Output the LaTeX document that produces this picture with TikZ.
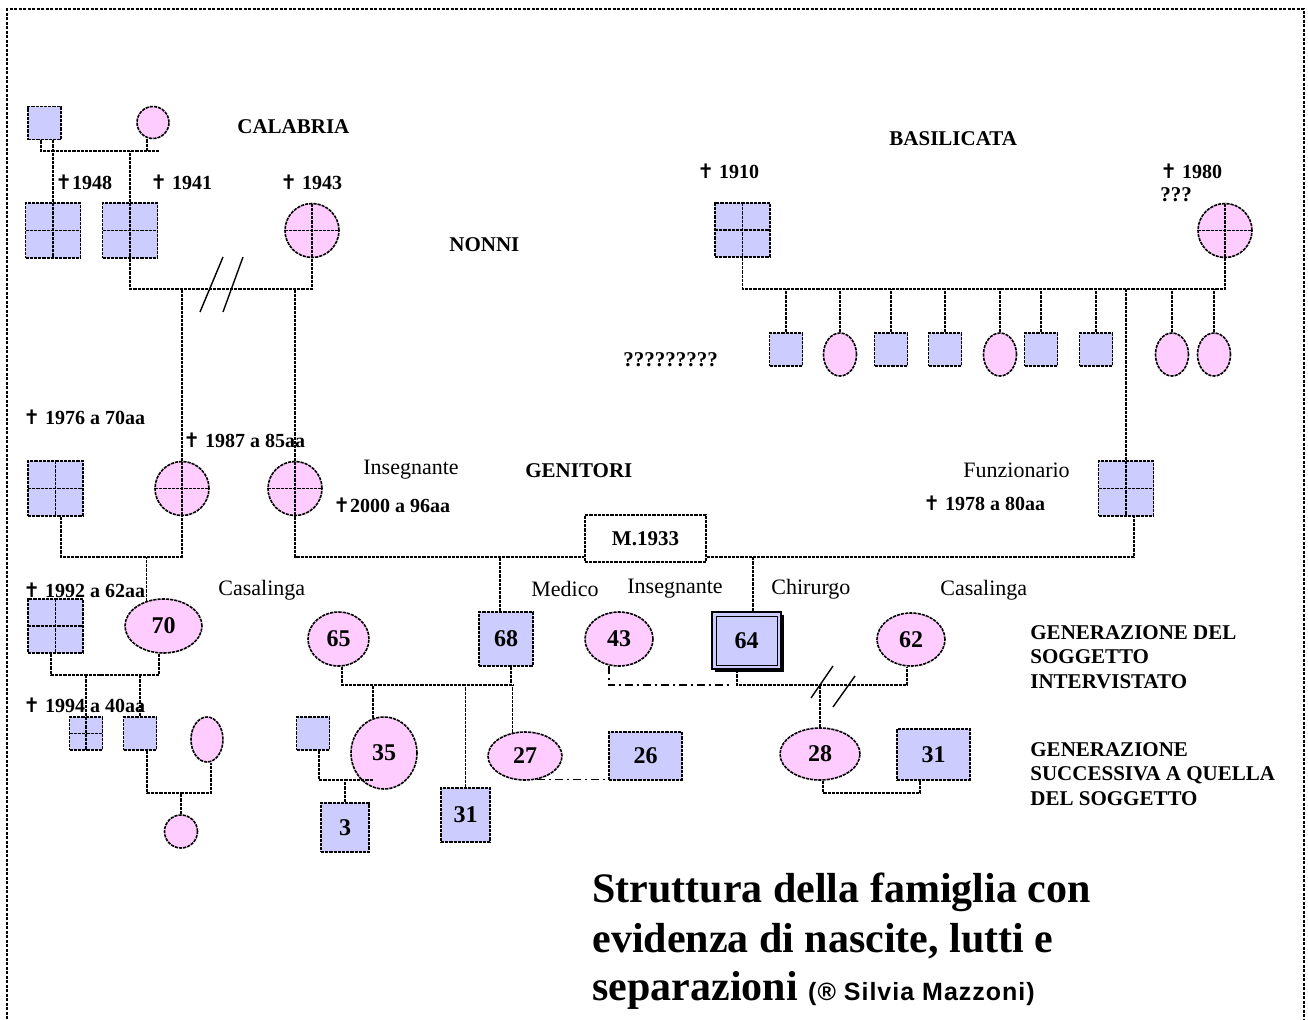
\documentclass[tikz,border=0pt]{standalone}
\usepackage{fontspec}
\setmainfont{Liberation Serif}
\newfontfamily\crocefont{DejaVu Sans}
\newfontfamily\firmafont[LetterSpace=4]{Liberation Sans}
\usetikzlibrary{shapes.geometric,shadows}
\definecolor{azzurro}{RGB}{204,204,255}
\definecolor{rosa}{RGB}{255,204,255}
\newcommand{\morto}{{\crocefont ✝}}

\begin{document}
\begin{tikzpicture}[x=0.5pt,y=-0.5pt]
\tikzstyle{every node}+=[inner sep=0pt]
\tikzstyle{linea}=[black, line width=0.8pt, dash pattern=on 1.6pt off 0.5pt]
\tikzstyle{puntolinea}=[black, line width=0.8pt, dash pattern=on 4pt off 2pt on 1pt off 2pt]
\tikzstyle{cornice}=[black, line width=1.3pt, dash pattern=on 1.5pt off 0.75pt]
\tikzstyle{maschio}=[linea, draw, rectangle, fill=azzurro]
\tikzstyle{femmina}=[linea, draw, ellipse, fill=rosa]
\tikzstyle{croce}=[path picture={\draw[linea] (path picture bounding box.north) -- (path picture bounding box.south) (path picture bounding box.west) -- (path picture bounding box.east);}]
\tikzstyle{soggetto}=[draw=black, solid, line width=1.2pt, rectangle, fill=azzurro,
  drop shadow={shadow xshift=1.5pt, shadow yshift=-1.5pt, fill=black, opacity=1},
  path picture={\draw[line width=0.5pt] ([shift={(2pt,-2pt)}]path picture bounding box.north west) rectangle ([shift={(-2pt,2pt)}]path picture bounding box.south east);}]
\tikzstyle{eta}=[font=\bfseries\fontsize{12}{14}\selectfont]
\tikzstyle{anno}=[anchor=west, font=\bfseries\fontsize{10}{12}\selectfont]
\tikzstyle{titoletto}=[anchor=west, font=\bfseries\fontsize{10.5}{12.3}\selectfont, align=left]
\tikzstyle{nota}=[anchor=west, font=\fontsize{11}{13}\selectfont]
\tikzstyle{titolo}=[anchor=base west, font=\bfseries\fontsize{21}{25}\selectfont]
\useasboundingbox (0,0) rectangle (1308,1019);
\draw[cornice] (7,1019) -- (7,9) -- (1304,9) -- (1304,1019);

% bisnonni e nonni Calabria
\node[maschio, minimum size=16.5pt] (bisN) at (44.5,123) {};
\node[femmina, minimum size=16pt] (bisNa) at (153,122.5) {};
\node[maschio, croce, minimum size=27.5pt] (nC1) at (53,230.5) {};
\node[maschio, croce, minimum size=27.5pt] (nC2) at (130,230.5) {};
\node[femmina, croce, minimum size=27pt] (nC3) at (312,230.5) {};
\coordinate (fC0) at (159,151);
\draw[linea] ([xshift=-1.75pt]bisN.south) |- (fC0);
\draw[linea] (nC1.north) -- (nC1.north |- bisN.south);
\draw[linea] ([xshift=-3pt]bisNa.south) -- ([xshift=-3pt]bisNa.south |- fC0);
\draw[linea] (nC2.north) -- (nC2.north |- fC0);
\coordinate (mC) at (220,289);
\draw[linea] (nC2.south) |- (mC) -| (nC3.south);
\draw[black, line width=0.7pt] ([shift={(-20,23)}]mC) -- ([shift={(3,-32)}]mC)
  ([shift={(3,23)}]mC) -- ([shift={(23,-32)}]mC);
\node[titoletto] (calabria) at (237,127) {CALABRIA};
\node[anno] (lC1) at (55,182) {\morto1948};
\node[anno] (lC2) at (150,182) {\morto\ 1941};
\node[anno] (lC3) at (280,182) {\morto\ 1943};
\node[titoletto] (nonni) at (449,245) {NONNI};

% nonni Basilicata
\node[maschio, croce, minimum width=27.5pt, minimum height=27pt] (nB1) at (742.5,230) {};
\node[femmina, croce, minimum size=27pt] (nB2) at (1225,230.5) {};
\coordinate (mB) at (1000,289);
\draw[linea] (nB1.south) |- (mB) -| (nB2.south);
\node[maschio, minimum size=16.5pt] (fB1) at (786,349.5) {};
\node[femmina, minimum width=16.5pt, minimum height=21.5pt] (fB2) at (840,354.5) {};
\node[maschio, minimum size=16.5pt] (fB3) at (891,349.5) {};
\node[maschio, minimum size=16.5pt] (fB4) at (945,349.5) {};
\node[femmina, minimum width=16.5pt, minimum height=21.5pt] (fB5) at (1000,354.5) {};
\node[maschio, minimum size=16.5pt] (fB6) at (1041,349.5) {};
\node[maschio, minimum size=16.5pt] (fB7) at (1096,349.5) {};
\node[femmina, minimum width=16.5pt, minimum height=21.5pt] (fB8) at (1172,354.5) {};
\node[femmina, minimum width=16.5pt, minimum height=21.5pt] (fB9) at (1214,354.5) {};
\draw[linea] (fB1.north) -- (fB1.north |- mB);
\draw[linea] (fB2.north) -- (fB2.north |- mB);
\draw[linea] (fB3.north) -- (fB3.north |- mB);
\draw[linea] (fB4.north) -- (fB4.north |- mB);
\draw[linea] (fB5.north) -- (fB5.north |- mB);
\draw[linea] (fB6.north) -- (fB6.north |- mB);
\draw[linea] (fB7.north) -- (fB7.north |- mB);
\draw[linea] (fB8.north) -- (fB8.north |- mB);
\draw[linea] (fB9.north) -- (fB9.north |- mB);
\node[titoletto] (basilicata) at (889,139) {BASILICATA};
\node[anno] (lB1) at (697,171) {\morto\ 1910};
\node[anno] (lB2) at (1160,171) {\morto\ 1980};
\node[titoletto] (lB3) at (1160,195) {???};
\node[titoletto] (lB4) at (623,360) {?????????};

% genitori
\node[maschio, croce, minimum size=27.5pt] (nF0) at (55.5,488.5) {};
\node[femmina, croce, minimum size=27pt] (nF1) at (182,488.5) {};
\node[femmina, croce, minimum size=27pt] (nF2) at (295,488.5) {};
\node[maschio, croce, minimum size=27.5pt] (nF3) at (1126,488.5) {};
\draw[linea] (nF1.north) -- (nF1.north |- mC);
\draw[linea] (nF2.north) -- (nF2.north |- mC);
\draw[linea] (nF3.north) -- (nF3.north |- mB);
\node[linea, draw, fill=white, minimum width=60.5pt, minimum height=23.5pt,
  font=\bfseries\fontsize{10.5}{12}\selectfont] (m33) at (645.5,538.5) {M.1933};
\coordinate (mF0) at (120,557);
\draw[linea] ([xshift=2.75pt]nF0.south) |- (mF0) -| (nF1.south);
\coordinate (mF1) at (640,557);
\draw[linea] (nF2.south) |- (mF1 -| m33.west);
\draw[linea] (mF1 -| m33.east) -| ([xshift=4pt]nF3.south);
\node[anno] (lF0) at (23,417) {\morto\ 1976 a 70aa};
\node[anno] (lF1) at (183,440) {\morto\ 1987 a 85aa};
\node[nota] (iF2) at (363,470) {Insegnante};
\node[anno] (lF2) at (333,505) {\morto2000 a 96aa};
\node[titoletto] (genitori) at (525,471) {GENITORI};
\node[nota] (iF3) at (963,470) {Funzionario};
\node[anno] (lF3) at (923,503) {\morto\ 1978 a 80aa};

% generazione del soggetto
\node[maschio, croce, minimum width=27.5pt, minimum height=27pt] (nS0) at (55.5,626) {};
\node[femmina, eta, minimum width=38.5pt, minimum height=27pt] (nS1) at (163.5,626) {70};
\node[femmina, eta, minimum width=30.5pt, minimum height=27pt] (nS2) at (338.5,639) {65};
\node[maschio, eta, minimum size=27pt] (nS3) at (506,639) {68};
\node[femmina, eta, minimum width=34pt, minimum height=27pt] (nS5) at (619,639) {43};
\node[soggetto, eta, minimum width=34.5pt, minimum height=28.5pt] (nS4) at (746.5,640.5) {64};
\node[femmina, eta, minimum width=34pt, minimum height=26.5pt] (nS6) at (911,639.5) {62};
\draw[linea] (nS1.124) -- (nS1.124 |- mF0);
\draw[linea] ([xshift=-3pt]nS3.north) -- ([xshift=-3pt]nS3.north |- mF1);
\draw[linea] ([xshift=3.25pt]nS4.north) -- ([xshift=3.25pt]nS4.north |- mF1);
\node[anno] (lS0) at (23,590) {\morto\ 1992 a 62aa};
\node[nota] (iS1) at (218,590) {Casalinga};
\node[nota] (iS3) at (531,589) {Medico};
\node[nota] (iS5) at (627,589) {Insegnante};
\node[nota] (iS4) at (771,589) {Chirurgo};
\node[nota] (iS6) at (940,590) {Casalinga};
\node[titoletto] (gen1) at (1030,657) {GENERAZIONE DEL\\SOGGETTO\\INTERVISTATO};

% nipoti
\coordinate (mS0) at (100,675);
\draw[linea] ([xshift=-2.25pt]nS0.south) |- (mS0) -| ([xshift=-2.25pt]nS1.south);
\node[maschio, croce, minimum size=16.5pt] (nN1) at (86,733.5) {};
\node[maschio, minimum size=16.5pt] (nN2) at (140,733.5) {};
\node[femmina, minimum width=16pt, minimum height=22.5pt] (nN3) at (207,739.5) {};
\draw[linea] (nN1.north) -- (nN1.north |- mS0);
\draw[linea] (nN2.north) -- (nN2.north |- mS0);
\coordinate (mN0) at (180,793);
\draw[linea] ([xshift=3.5pt]nN2.south) |- (mN0) -| ([xshift=2pt]nN3.south);
\node[femmina, minimum size=16.5pt] (nP0) at (181,831.5) {};
\draw[linea] (nP0.north) -- (nP0.north |- mN0);
\node[anno] (lN1) at (23,705) {\morto\ 1994 a 40aa};

\coordinate (mS2) at (513,685);
\draw[linea] ([xshift=1.75pt]nS2.south) |- (mS2);
\draw[linea] ([xshift=2.5pt]nS3.south) -- ([xshift=2.5pt]nS3.south |- mS2);
\node[maschio, minimum size=16.5pt] (nN4) at (313,733.5) {};
\node[femmina, eta, minimum width=33pt, minimum height=36pt] (nN5) at (384,753) {35};
\node[maschio, eta, minimum width=24.5pt, minimum height=27pt] (nN6) at (465.5,815) {31};
\node[femmina, eta, minimum width=37pt, minimum height=24pt] (nN7) at (525,756) {27};
\node[maschio, eta, minimum width=36.5pt, minimum height=24pt] (nN8) at (645.5,756) {26};
\draw[linea] (nN5.108) -- (nN5.108 |- mS2);
\draw[linea] (nN6.north) -- (nN6.north |- mS2);
\draw[linea] (nN7.118) -- (nN7.118 |- mS2);
\coordinate (mN4) at (373,780);
\draw[linea] ([xshift=3pt]nN4.south) |- (mN4);
\node[maschio, eta, minimum width=24pt, minimum height=24.5pt] (nP1) at (345,827.5) {3};
\draw[linea] (nP1.north) -- (nP1.north |- mN4);
\draw[puntolinea] (nN7.298) -- (nN7.298 -| nN8.south west);

\coordinate (mS4) at (737,685);
\coordinate (mS5) at (823,685);
\draw[puntolinea] (nS5.249) |- ([xshift=-3pt]mS4);
\draw[linea] ([xshift=-4.75pt]nS4.south) |- (mS5) -| ([xshift=-2pt]nS6.south);
\draw[black, line width=0.7pt] ([shift={(-12,13)}]mS5) -- ([shift={(10,-19)}]mS5)
  ([shift={(10,22)}]mS5) -- ([shift={(32,-9)}]mS5);
\node[femmina, eta, minimum width=40pt, minimum height=26pt] (nN9) at (820,754) {28};
\node[maschio, eta, minimum width=36.5pt, minimum height=25.5pt] (nN10) at (933.5,754.5) {31};
\draw[linea] (nN9.north) -- (nN9.north |- mS5);
\coordinate (mN9) at (870,793);
\draw[linea] ([xshift=1.5pt]nN9.south) |- (mN9) -| ([xshift=-6.75pt]nN10.south);
\node[titoletto] (gen2) at (1030,774) {GENERAZIONE\\SUCCESSIVA A QUELLA\\DEL SOGGETTO};

% titolo
\node[titolo] (tit1) at (592,902) {Struttura della famiglia con};
\node[titolo] (tit2) at (592,952) {evidenza di nascite, lutti e};
\node[titolo] (tit3) at (592,1000) {separazioni {\firmafont\bfseries\fontsize{12.5}{14}\selectfont(® Silvia Mazzoni)}};
\end{tikzpicture}
\end{document}
